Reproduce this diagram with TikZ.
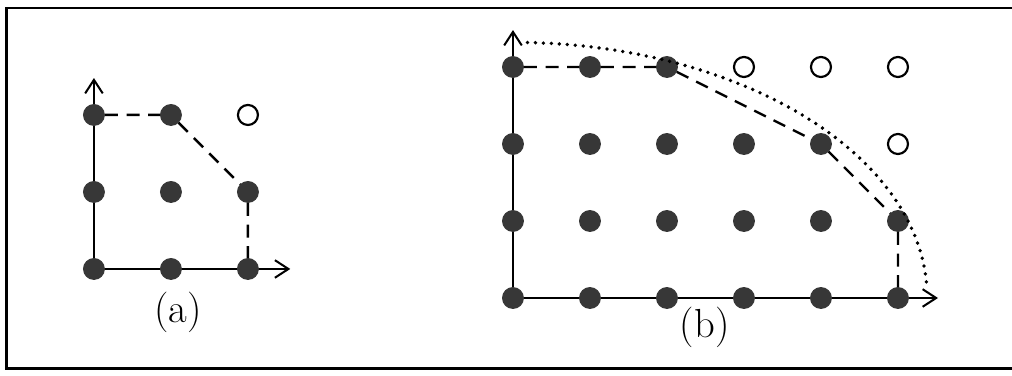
\documentclass[tikz,border=0pt]{standalone}
\usepackage{tikz}
\usepackage{xcolor}
\usetikzlibrary{positioning, arrows.meta}
\definecolor{dotgray}{RGB}{55, 55, 55}

\begin{document}
\begin{tikzpicture}[
    full/.style={
        circle,
        fill=dotgray,
        draw=dotgray,
        inner sep=0pt,
        minimum size=0.27cm
    },
    hollow/.style={
        circle,
        fill=white,
        draw=black,
        line width=0.8pt,
        inner sep=0pt,
        minimum size=0.26cm
    },
    axis/.style={line width=0.75pt, -{Straight Barb[length=5pt, width=6.5pt]}},
    bound/.style={line width=0.9pt, dash pattern=on 4.8pt off 3.2pt},
    limit/.style={line width=1.4pt, line cap=round, dash pattern=on 0pt off 2.95pt},
    lbl/.style={font=\fontsize{15}{18}\selectfont}
]
\useasboundingbox (0,0) rectangle (13.143,4.883);

% === frame (right side runs off the page) ===
\draw[line width=1pt] (13.40,4.78) -- (0.08,4.78) -- (0.08,0.10) -- (13.40,0.10);

% === (a): small grid ===
\begin{scope}[shift={(1.22,1.39)}]
\coordinate (ao) at (0,0);
\coordinate (ax) at (2.55,0);
\coordinate (ay) at (0,2.48);
\draw[axis] (ao) -- (ax);
\draw[axis] (ao) -- (ay);

\node[full] (a00) at (0,0) {};
\node[full] (a10) at (1,0) {};
\node[full] (a20) at (2,0) {};
\node[full] (a01) at (0,1) {};
\node[full] (a11) at (1,1) {};
\node[full] (a21) at (2,1) {};
\node[full] (a02) at (0,2) {};
\node[full] (a12) at (1,2) {};
\node[hollow] (a22) at (2,2) {};

\draw[bound] (a02) -- (a12) -- (a21) -- (a20);
\node[lbl] (alabel) at (1.09,-0.57) {(a)};
\end{scope}

% === (b): large grid ===
\begin{scope}[shift={(6.662,1.013)}]
\coordinate (bo) at (0,0);
\coordinate (bx) at (5.52,0);
\coordinate (by) at (0,3.48);
\draw[axis] (bo) -- (bx);
\draw[axis] (bo) -- (by);

\node[full] (b00) at (0,0) {};
\node[full] (b10) at (1,0) {};
\node[full] (b20) at (2,0) {};
\node[full] (b30) at (3,0) {};
\node[full] (b40) at (4,0) {};
\node[full] (b50) at (5,0) {};
\node[full] (b01) at (0,1) {};
\node[full] (b11) at (1,1) {};
\node[full] (b21) at (2,1) {};
\node[full] (b31) at (3,1) {};
\node[full] (b41) at (4,1) {};
\node[full] (b51) at (5,1) {};
\node[full] (b02) at (0,2) {};
\node[full] (b12) at (1,2) {};
\node[full] (b22) at (2,2) {};
\node[full] (b32) at (3,2) {};
\node[full] (b42) at (4,2) {};
\node[hollow] (b52) at (5,2) {};
\node[full] (b03) at (0,3) {};
\node[full] (b13) at (1,3) {};
\node[full] (b23) at (2,3) {};
\node[hollow] (b33) at (3,3) {};
\node[hollow] (b43) at (4,3) {};
\node[hollow] (b53) at (5,3) {};

\draw[bound] (b03) -- (b13) -- (b23) -- (b42) -- (b51) -- (b50);
\coordinate (arcstart) at (88:5.38 and 3.32);
\draw[limit] (arcstart) arc[start angle=88, end angle=3, x radius=5.38, y radius=3.32];
\node[lbl] (blabel) at (2.49,-0.38) {(b)};
\end{scope}

\end{tikzpicture}
\end{document}
